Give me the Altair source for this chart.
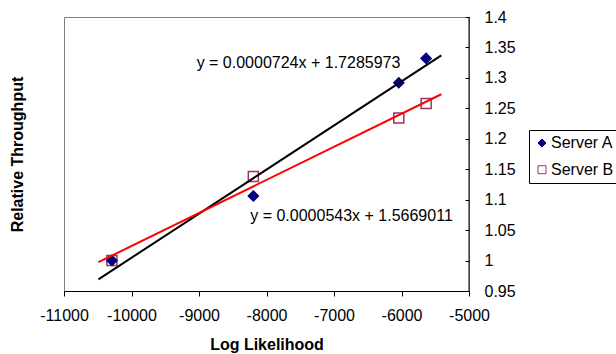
import altair as alt
import pandas as pd

# ---- data ----
series_names = ["Server A", "Server B"]
log_likelihood = [-10290, -8195, -6040, -5635]
server_a = [1.0, 1.106, 1.292, 1.332]
server_b = [1.0, 1.138, 1.234, 1.258]

# trendline equations (as printed on the chart) and their drawn extent
slopes = [0.0000724, 0.0000543]
intercepts = [1.7285973, 1.5669011]
trend_extent = [-10490, -5410]

eq_labels = ["y = 0.0000724x + 1.7285973", "y = 0.0000543x + 1.5669011"]
eq_x = [-9035, -8241]
eq_y = [1.324, 1.0737]

x_ticks = [-11000, -10000, -9000, -8000, -7000, -6000, -5000]
y_ticks = [0.95, 1.0, 1.05, 1.1, 1.15, 1.2, 1.25, 1.3, 1.35, 1.4]

# ---- tables ----
points_df = pd.DataFrame({
    "x": log_likelihood + log_likelihood,
    "y": server_b + server_a,
    "series": ["Server B"] * len(server_b) + ["Server A"] * len(server_a),
})

trend_rows = []
for name, m, b in zip(series_names, slopes, intercepts):
    for xe in trend_extent:
        trend_rows.append({"fit": name, "x": xe, "slope": m, "intercept": b})
trend_df = pd.DataFrame(trend_rows)

eq_df = pd.DataFrame({"x": eq_x, "y": eq_y, "label": eq_labels})

W, H = 405, 274
FONT = "Liberation Sans"

x_scale = alt.Scale(domain=[-11000, -5000], nice=False, zero=False)
y_scale = alt.Scale(domain=[0.95, 1.4], nice=False, zero=False)

x_enc = alt.X(
    "x:Q",
    scale=x_scale,
    axis=alt.Axis(
        values=x_ticks,
        labelExpr="toString(datum.value)",
        title="Log Likelihood",
        grid=False,
        domainColor="black",
        domainWidth=1,
        tickColor="black",
        tickSize=5,
        labelFontSize=16,
        labelColor="black",
        labelPadding=11,
        labelFlush=False,
        labelOverlap=False,
        titleFontSize=16,
        titleFontWeight="bold",
        titleColor="black",
        titlePadding=13,
    ),
)

pts = alt.Chart(points_df).mark_point(opacity=1, strokeWidth=1.5, size=100).encode(
    x=x_enc,
    y=alt.Y(
        "y:Q",
        scale=y_scale,
        axis=alt.Axis(
            orient="right",
            values=y_ticks,
            labelExpr="toString(datum.value)",
            title=None,
            grid=False,
            domain=False,
            offset=-4,
            tickSize=4,
            tickColor="black",
            labelPadding=15,
            labelFontSize=16,
            labelColor="black",
            labelAlign="left",
            labelBaseline="middle",
            labelFlush=False,
            labelOverlap=False,
        ),
    ),
    shape=alt.Shape("series:N", scale=alt.Scale(domain=series_names, range=["diamond", "square"]),
                    legend=alt.Legend(title=None)),
    stroke=alt.Stroke("series:N", scale=alt.Scale(domain=series_names, range=["#000080", "#993366"]),
                      legend=alt.Legend(title=None)),
    fill=alt.Fill("series:N", scale=alt.Scale(domain=series_names, range=["#000080", "transparent"]),
                  legend=alt.Legend(title=None)),
)

lines = alt.Chart(trend_df).transform_calculate(
    y="datum.intercept + datum.slope * datum.x"
).mark_line(strokeWidth=2).encode(
    x=x_enc,
    y=alt.Y(
        "y:Q",
        scale=y_scale,
        axis=alt.Axis(
            orient="left",
            title="Relative Throughput",
            labels=False,
            ticks=False,
            domain=False,
            grid=False,
            titlePadding=39,
            titleFontSize=16,
            titleFontWeight="bold",
            titleColor="black",
        ),
    ),
    color=alt.Color("fit:N", scale=alt.Scale(domain=series_names, range=["black", "red"]), legend=None),
)

eqs = alt.Chart(eq_df).mark_text(align="left", baseline="middle", fontSize=16, color="black").encode(
    x=x_enc,
    y=alt.Y("y:Q", scale=y_scale, axis=None),
    text="label:N",
)

right_edge = alt.Chart(alt.Data(values=[{}])).mark_rule(color="black", strokeWidth=1).encode(
    x=alt.value(W), y=alt.value(0), y2=alt.value(H)
)

chart = (
    alt.layer(pts, lines, eqs, right_edge)
    .resolve_axis(y="independent")
    .properties(
        width=W,
        height=H,
        autosize=alt.AutoSizeParams(type="none"),
        padding={"left": 64, "top": 17, "right": 147, "bottom": 63},
        background="white",
    )
    .configure(font=FONT)
    .configure_view(stroke="#808080", strokeWidth=1)
    .configure_legend(
        orient="none",
        legendX=465,
        legendY=113,
        padding=5,
        strokeColor="black",
        fillColor="white",
        labelFontSize=16,
        labelColor="black",
        symbolSize=64,
        symbolStrokeWidth=1,
        symbolOffset=0,
        labelOffset=1,
        rowPadding=10.7,
    )
)

chart.save("out.html", embed_options={"renderer": "svg", "actions": False})
